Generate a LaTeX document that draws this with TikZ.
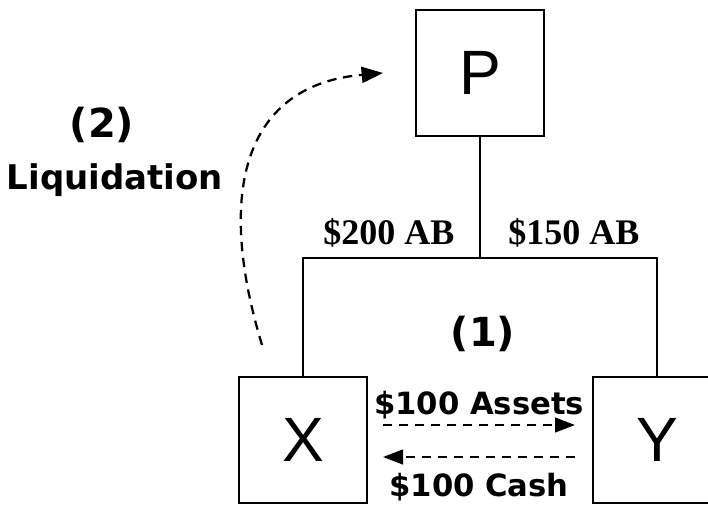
\documentclass[tikz,border=0pt]{standalone}
\usepackage{fontspec}
\setmainfont{Liberation Serif}
\newfontfamily\letterfont{Liberation Sans}
\newfontfamily\notefont{DejaVu Sans}
\usetikzlibrary{arrows.meta}

\tikzset{
    entity/.style={draw, line width=1.5pt, minimum width=96pt, minimum height=94pt,
        inner sep=0pt, font=\letterfont\fontsize{47}{47}\selectfont},
    amount/.style={font=\bfseries\fontsize{27}{32}\selectfont},
    note/.style={font=\notefont\bfseries\fontsize{23}{28}\selectfont},
    bignote/.style={font=\notefont\bfseries\fontsize{30}{36}\selectfont},
    flow/.style={dash pattern=on 7pt off 5pt, line width=1.7pt,
        -{Triangle[length=15pt, width=11pt]}},
}

\begin{document}
\begin{tikzpicture}[x=0.75pt, y=-0.75pt, line width=1.5pt]
    \useasboundingbox (0,0) rectangle (708,505);

    \node[entity] (P) at (480,73) {P};
    \node[entity] (X) at (303,440) {X};
    \node[entity] (Y) at (657,440) {Y};
    \coordinate (split) at (480,258);
    \coordinate (liq) at (262,345);

    % ownership tree
    \draw (P) -- (split);
    \draw (X) |- (split) -| (Y);
    \node[amount, anchor=base] (ab200) at (389,245) {\$200 AB};
    \node[amount, anchor=base] (ab150) at (574,245) {\$150 AB};

    % (1) exchange between X and Y
    \node[bignote, anchor=base] (one) at (483,347) {(1)};
    \draw[flow] ([xshift=11.25pt, yshift=11.25pt]X.east) -- node[note, above] {\$100 Assets} ([xshift=-12.75pt, yshift=11.25pt]Y.west);
    \draw[flow] ([xshift=-12.75pt, yshift=-12.75pt]Y.west) -- node[note, below=8pt] {\$100 Cash} ([xshift=11.25pt, yshift=-12.75pt]X.east);

    % (2) liquidation of X into P
    \node[bignote, anchor=base] (two) at (102,138) {(2)};
    \node[bignote, anchor=base, font=\notefont\bfseries\fontsize{25.5}{31}\selectfont] (liqtext) at (115,190) {Liquidation};
    \draw[flow, -{Triangle[length=16pt, width=12pt]}] (liq) .. controls (215,190) and (245,85) .. ([xshift=-24pt]P.west);
\end{tikzpicture}
\end{document}
